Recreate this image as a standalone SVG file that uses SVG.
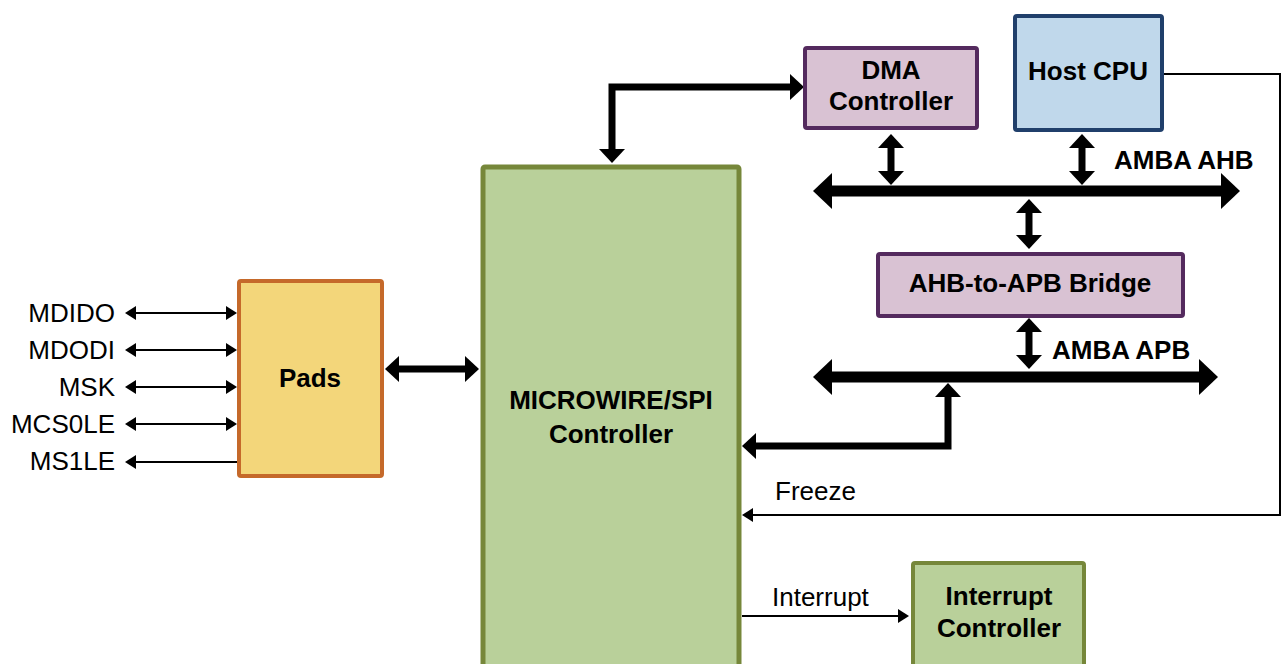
<svg xmlns="http://www.w3.org/2000/svg" width="1287" height="664" viewBox="0 0 1287 664">
<style>
.lbl{font-family:"Liberation Sans",Arial,sans-serif;font-size:26px;fill:#000}
.b{font-weight:bold}
.c{text-anchor:middle}
.r{text-anchor:end}
.thick{fill:none;stroke:#000;stroke-width:7;stroke-linejoin:miter}
.bus{fill:none;stroke:#000;stroke-width:11}
.thin{fill:none;stroke:#000;stroke-width:2}
</style>
<defs>
<marker id="mBus" viewBox="0 -18 20 36" markerUnits="userSpaceOnUse" markerWidth="20" markerHeight="36" refX="2" refY="0" orient="auto-start-reverse"><path d="M0,-18 L19,0 L0,18 Z" fill="#000"/></marker>
<marker id="mMed" viewBox="0 -14 15 28" markerUnits="userSpaceOnUse" markerWidth="15" markerHeight="28" refX="2" refY="0" orient="auto-start-reverse"><path d="M0,-13 L14,0 L0,13 Z" fill="#000"/></marker>
<marker id="mThin" viewBox="0 -8 12 16" markerUnits="userSpaceOnUse" markerWidth="12" markerHeight="16" refX="2" refY="0" orient="auto-start-reverse"><path d="M0,-7 L11,0 L0,7 Z" fill="#000"/></marker>
</defs>
<rect width="1287" height="664" fill="#fff"/>

<g id="connectors">
<path class="thick" d="M612,151 L612,87 L792,87" marker-start="url(#mMed)" marker-end="url(#mMed)"/>
<path class="thick" d="M397,369 L467,369" marker-start="url(#mMed)" marker-end="url(#mMed)"/>
<path class="thick" d="M891,146 L891,173" marker-start="url(#mMed)" marker-end="url(#mMed)"/>
<path class="thick" d="M1082,146 L1082,173" marker-start="url(#mMed)" marker-end="url(#mMed)"/>
<path class="thick" d="M1029,211 L1029,237" marker-start="url(#mMed)" marker-end="url(#mMed)"/>
<path class="thick" d="M1029,330 L1029,357" marker-start="url(#mMed)" marker-end="url(#mMed)"/>
<path class="thick" d="M948,395 L948,446 L754,446" marker-start="url(#mMed)" marker-end="url(#mMed)"/>
<path class="bus" d="M830,191 L1223,191" marker-start="url(#mBus)" marker-end="url(#mBus)"/>
<path class="bus" d="M830,377 L1201,377" marker-start="url(#mBus)" marker-end="url(#mBus)"/>
<path class="thin" d="M1163,74 L1280,74 L1280,515 L751,515" marker-end="url(#mThin)"/>
<path class="thin" d="M742,616 L900,616" marker-end="url(#mThin)"/>
<path class="thin" d="M134,313 L228,313" marker-start="url(#mThin)" marker-end="url(#mThin)"/>
<path class="thin" d="M134,350 L228,350" marker-start="url(#mThin)" marker-end="url(#mThin)"/>
<path class="thin" d="M134,387 L228,387" marker-start="url(#mThin)" marker-end="url(#mThin)"/>
<path class="thin" d="M134,424 L228,424" marker-start="url(#mThin)" marker-end="url(#mThin)"/>
<path class="thin" d="M134,462 L238,462" marker-start="url(#mThin)"/>
<text class="lbl" x="775" y="500">Freeze</text>
<text class="lbl" x="772" y="606">Interrupt</text>
<text class="lbl b" x="1114" y="169">AMBA AHB</text>
<text class="lbl b" x="1052" y="359">AMBA APB</text>
</g>

<g id="signals">
<text class="lbl r" x="115" y="322">MDIDO</text>
<text class="lbl r" x="115" y="359">MDODI</text>
<text class="lbl r" x="115" y="396">MSK</text>
<text class="lbl r" x="115" y="433">MCS0LE</text>
<text class="lbl r" x="115" y="470">MS1LE</text>
</g>

<g id="pads">
<rect x="239" y="281" width="143" height="195" rx="2" fill="#F3D67A" stroke="#C5692A" stroke-width="4"/>
<text class="lbl b c" x="310" y="387">Pads</text>
</g>

<g id="microwire">
<rect x="483" y="167" width="256" height="510" rx="2" fill="#B9D09A" stroke="#76873A" stroke-width="5"/>
<text class="lbl b c" x="611" y="409">MICROWIRE/SPI</text>
<text class="lbl b c" x="611" y="443">Controller</text>
</g>

<g id="dma">
<rect x="805" y="48" width="172" height="80" rx="2" fill="#D9C2D3" stroke="#542A5E" stroke-width="4"/>
<text class="lbl b c" x="891" y="79">DMA</text>
<text class="lbl b c" x="891" y="110">Controller</text>
</g>

<g id="hostcpu">
<rect x="1015" y="16" width="147" height="114" rx="2" fill="#C0D8EB" stroke="#203F6B" stroke-width="4"/>
<text class="lbl b c" x="1088" y="80">Host CPU</text>
</g>

<g id="bridge">
<rect x="878" y="254" width="305" height="62" rx="2" fill="#D9C2D3" stroke="#542A5E" stroke-width="4"/>
<text class="lbl b c" x="1030" y="292">AHB-to-APB Bridge</text>
</g>

<g id="intctrl">
<rect x="913" y="563" width="171" height="110" rx="2" fill="#B9D09A" stroke="#76873A" stroke-width="4"/>
<text class="lbl b c" x="999" y="605">Interrupt</text>
<text class="lbl b c" x="999" y="637">Controller</text>
</g>
</svg>
